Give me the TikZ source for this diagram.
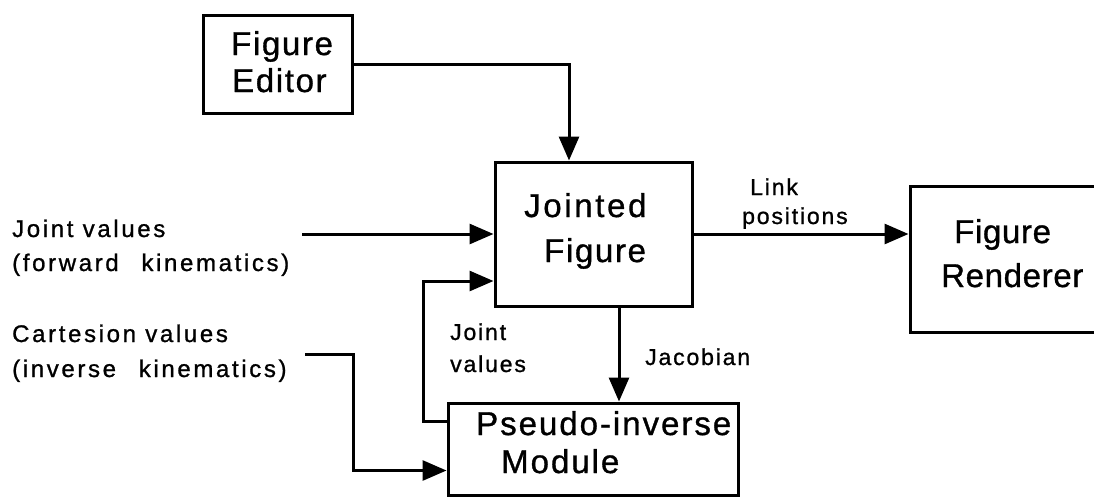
\documentclass[tikz,border=0pt]{standalone}
\usepackage{fontspec}
\setmainfont{Liberation Sans}[FakeBold=1]
\usetikzlibrary{arrows.meta}
\newcommand{\bigtxt}[1]{\addfontfeature{LetterSpace=#1}\fontsize{33}{40}\selectfont}
\newcommand{\midtxt}{\addfontfeature{LetterSpace=8}\fontsize{23}{28}\selectfont}
\newcommand{\sidetxt}{\addfontfeature{LetterSpace=11}\fontsize{24}{29}\selectfont}
\tikzset{
  blk/.style={draw, line width=3pt, inner sep=0pt},
  flow/.style={line width=3pt, -{Triangle[length=24pt,width=20pt]}},
  txt/.style={inner sep=0pt, anchor=base west}
}
\begin{document}
\begin{tikzpicture}[x=1pt, y=-1pt]
  \useasboundingbox (0,0) rectangle (1094,496);
  \clip (0,0) rectangle (1094,496);

  % blocks
  \node[blk, minimum width=149pt, minimum height=98pt]  (ed)  at (277.5,64) {};
  \node[blk, minimum width=197pt, minimum height=144pt] (jf)  at (593.5,234) {};
  \node[blk, minimum width=200pt, minimum height=146pt] (fr)  at (1010,259) {};
  \node[blk, minimum width=290pt, minimum height=92pt]  (pim) at (593,449) {};

  % block captions
  \node[txt] (ed1)  at (231,55)  {\bigtxt{5}Figure};
  \node[txt] (ed2)  at (232,92)  {\bigtxt{5}Editor};
  \node[txt] (jf1)  at (524,217) {\bigtxt{8}Jointed};
  \node[txt] (jf2)  at (544,262) {\bigtxt{5}Figure};
  \node[txt] (fr1)  at (954,243) {\bigtxt{2}Figure};
  \node[txt] (fr2)  at (941,287) {\bigtxt{2}Renderer};
  \node[txt] (pim1) at (476,435) {\bigtxt{6}Pseudo-inverse};
  \node[txt] (pim2) at (501,473) {\bigtxt{6}Module};

  % signal labels
  \node[txt] (lk1) at (750,195) {\midtxt Link};
  \node[txt] (lk2) at (742,224) {\midtxt positions};
  \node[txt] (jv1) at (450,340) {\midtxt Joint};
  \node[txt] (jv2) at (450,372) {\midtxt values};
  \node[txt] (jac) at (645,365) {\midtxt Jacobian};

  % external inputs
  \node[txt] (in1) at (12,237) {\sidetxt Joint values};
  \node[txt] (in2) at (12,271) {\sidetxt (forward\hspace{0.95em}kinematics)};
  \node[txt] (in3) at (12,342) {\sidetxt Cartesion values};
  \node[txt] (in4) at (12,377) {\sidetxt (inverse\hspace{0.95em}kinematics)};
  \coordinate (jvin) at (302,234);
  \coordinate (cvin) at (305,354);

  % connections
  \draw[flow] (ed.east) -| ([xshift=-24.5pt]jf.north);
  \draw[flow] (jvin) -- (jf.west);
  \draw[flow] ([yshift=-20pt]pim.north west) -- ++(-23pt,0) |- ([yshift=-47pt]jf.west);
  \draw[flow] ([xshift=25.5pt]jf.south) -- ([xshift=25.5pt]jf.south |- pim.north);
  \draw[flow] (cvin) -- ++(48pt,0) |- ([yshift=-69pt]pim.north west);
  \draw[flow] (jf.east) -- (jf.east -| fr.west);
\end{tikzpicture}
\end{document}
